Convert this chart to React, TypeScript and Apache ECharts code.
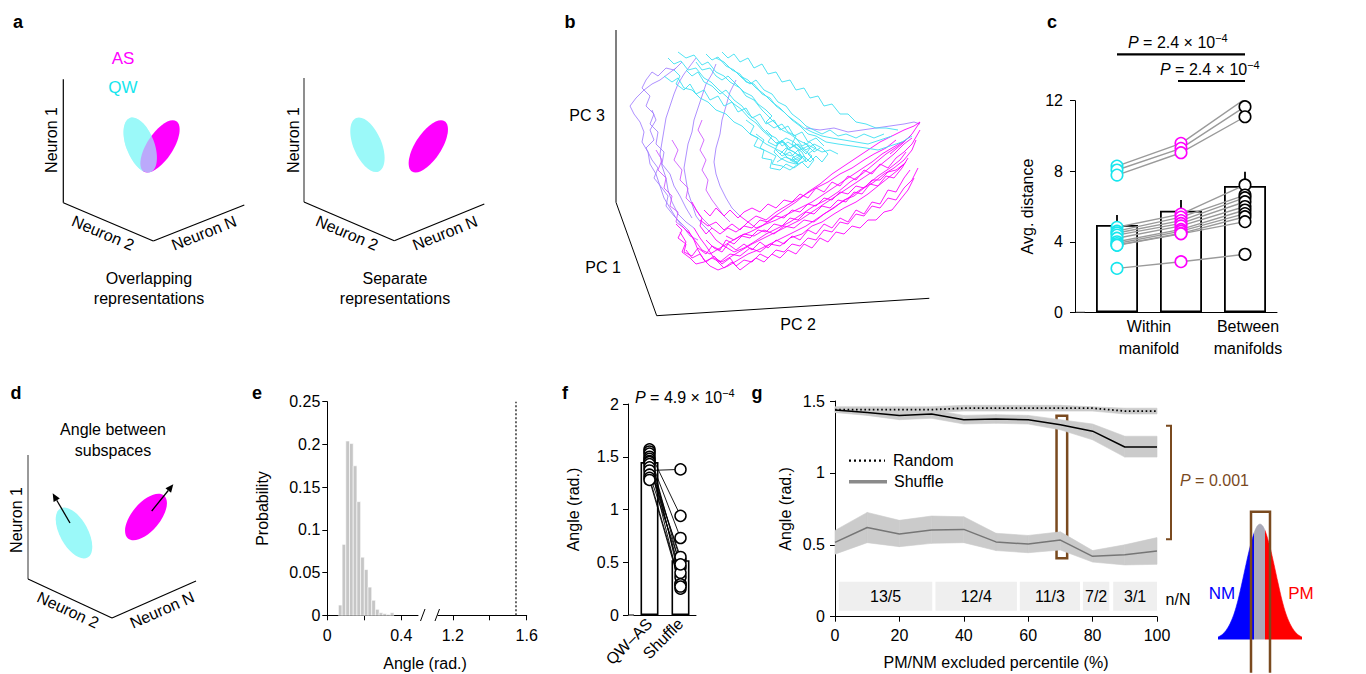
import React, { useEffect, useRef } from 'react';
import * as echarts from 'echarts';

const FONT = '"Liberation Sans", Arial, Helvetica, sans-serif';
const CYAN = '#17e6ee';
const CYAN_LIGHT = '#9bf9f9';
const MAGENTA = '#ff00ff';
const BROWN = '#7a4a1f';

// ---------- panel b: population trajectories projected on (PC 2, PC 3) ----------
const cyanTrajectories: number[][][] = [
  [[52,262],[58,256],[65,259],[72,250],[80,252],[88,242],[95,238],[103,230],[110,224],[118,216],[125,211],[133,202],[140,197],[147,189],[154,183],[160,177],[166,179],[172,171],[178,168],[184,164],[177,160],[169,163],[161,158]],
  [[62,268],[70,262],[78,265],[86,255],[92,258],[100,248],[108,244],[114,238],[124,232],[130,224],[138,220],[146,210],[152,204],[160,196],[166,190],[174,186],[182,180],[190,176],[198,172],[206,168],[214,170],[222,166]],
  [[48,244],[56,238],[62,242],[68,232],[76,230],[84,222],[92,218],[100,210],[110,206],[118,198],[126,194],[134,186],[142,182],[150,176],[158,172],[166,168],[172,162],[180,158],[186,162],[178,168],[170,172],[164,166]],
  [[90,266],[96,260],[102,263],[110,254],[118,250],[124,244],[132,240],[140,232],[148,226],[156,218],[164,212],[172,204],[180,198],[188,192],[196,188],[206,184],[216,182],[228,180],[240,178],[252,176],[264,180],[276,184]],
  [[70,250],[76,244],[82,248],[88,238],[96,234],[104,226],[110,230],[118,220],[126,214],[132,206],[140,200],[146,192],[152,186],[160,182],[166,174],[172,178],[180,172],[186,168],[190,160],[182,156],[174,160]],
  [[100,262],[108,258],[116,250],[124,246],[130,238],[138,236],[146,226],[154,222],[160,214],[168,208],[176,200],[184,194],[192,186],[200,184],[210,178],[222,176],[236,174],[250,172],[262,170],[274,174],[286,178],[296,184]],
  [[150,190],[156,184],[152,178],[160,174],[166,180],[172,172],[168,166],[176,164],[182,170],[186,162],[180,156],[172,158],[164,162],[158,168],[162,176],[170,182],[178,178],[184,172],[190,166],[194,172],[188,178]],
  [[80,258],[86,250],[94,252],[100,244],[106,240],[112,244],[120,236],[128,228],[136,224],[142,216],[150,210],[156,204],[150,198],[158,192],[166,196],[172,188],[180,184],[176,176],[184,170],[192,174],[198,168],[204,172]],
  [[120,248],[126,242],[134,236],[140,240],[148,230],[156,226],[162,218],[170,214],[176,206],[184,200],[190,194],[198,190],[206,186],[214,190],[222,184],[230,186],[240,182],[248,186],[258,182],[268,186]],
  [[140,186],[148,180],[144,172],[152,168],[160,164],[156,156],[166,154],[174,150],[182,156],[176,162],[184,166],[190,158],[196,164],[188,170],[180,176],[172,170]],
  [[58,250],[64,244],[60,236],[68,230],[74,236],[80,226],[88,230],[94,220],[102,224],[108,214],[116,218],[122,208],[130,212],[136,202],[144,206],[150,196],[158,200],[164,190],[172,194],[178,184],[186,188],[192,178],[200,182],[208,174]],
  [[106,268],[112,262],[118,266],[124,258],[132,262],[138,252],[146,256],[152,246],[160,248],[166,238],[174,240],[180,230],[188,232],[194,222],[202,224],[208,214],[216,216],[224,206],[232,206],[240,198],[250,196],[260,192],[270,192],[282,190]],
  [[130,200],[138,194],[134,186],[142,182],[138,174],[148,170],[146,162],[156,160],[154,152],[164,150],[170,156],[178,152],[186,158],[192,152],[198,160],[192,166],[200,172],[194,178],[186,174],[180,182]],
  [[160,170],[166,164],[174,168],[180,160],[188,164],[194,158],[200,164],[206,158],[212,166],[206,172],[198,176],[190,170],[182,176],[174,172],[168,178],[160,176]],
];
const violetTrajectories: number[][][] = [
  [[60,252],[52,246],[44,240],[36,236],[28,230],[20,222],[14,214],[18,206],[24,198],[28,188],[26,178],[32,168],[34,156],[40,146],[44,134],[48,122],[54,112],[60,102],[66,94]],
  [[80,262],[74,254],[68,246],[62,236],[58,226],[54,214],[50,202],[48,190],[46,178],[44,166],[46,154],[50,142],[52,130],[56,118],[62,106],[70,98],[78,92]],
  [[100,256],[96,246],[90,236],[86,224],[82,212],[78,200],[76,188],[72,176],[70,164],[68,152],[70,140],[72,128],[76,116],[80,104],[86,96],[94,88]],
  [[36,210],[40,200],[34,190],[38,180],[30,172],[36,160],[42,152],[38,142],[46,132],[52,124],[50,114],[58,104],[64,98],[72,90]],
  [[120,240],[114,228],[110,214],[106,200],[104,186],[100,172],[98,158],[100,146],[104,134],[110,122],[116,112],[124,104]],
  [[66,258],[58,250],[50,252],[42,244],[36,248],[30,240],[26,232],[34,224],[30,214],[38,206],[34,196],[42,188],[40,176],[48,168],[46,156],[54,146],[58,134],[64,124],[70,112],[76,102]],
  [[190,192],[204,190],[218,192],[232,188],[246,190],[260,192],[274,194],[288,196],[298,198],[304,196]],
];
const purpleTrajectories: number[][][] = [
  [[40,170],[46,160],[42,150],[50,142],[48,132],[56,124],[54,114],[62,108],[60,98],[68,92],[74,84],[82,80]],
  [[56,180],[62,170],[58,160],[66,150],[64,140],[72,132],[70,122],[78,114],[84,104],[90,98],[96,92]],
  [[86,200],[82,190],[88,180],[84,170],[90,160],[86,150],[92,140],[90,130],[96,120],[102,112],[108,104],[114,98]],
];
const magentaTrajectories: number[][][] = [
  [[66,94],[74,86],[80,78],[86,70],[94,66],[104,72],[114,78],[124,84],[134,88],[146,94],[156,102],[168,110],[180,118],[192,128],[204,136],[216,146],[228,154],[240,162],[252,170],[264,178],[276,184],[288,190],[298,194],[304,198],[296,186],[286,176],[274,166]],
  [[78,92],[84,82],[90,74],[98,62],[106,58],[116,64],[126,70],[136,76],[148,82],[160,88],[172,94],[184,100],[196,108],[208,116],[220,124],[232,132],[244,140],[256,148],[268,158],[278,166],[288,176],[296,182]],
  [[94,88],[100,80],[108,74],[118,68],[128,72],[138,78],[150,86],[162,92],[174,98],[186,106],[198,114],[210,120],[222,128],[234,138],[246,146],[258,156],[270,166],[282,174],[292,182]],
  [[72,90],[78,80],[82,70],[88,60],[94,54],[102,50],[112,54],[122,60],[132,66],[142,70],[154,76],[166,82],[178,88],[190,94],[202,102],[214,110],[226,118],[238,126],[250,134],[262,144],[274,152],[284,160],[290,168]],
  [[124,104],[132,98],[140,92],[150,96],[160,100],[172,106],[184,112],[196,118],[208,126],[220,134],[232,142],[244,150],[256,158],[266,166],[276,172],[286,178]],
  [[90,80],[98,72],[106,68],[112,76],[120,70],[128,76],[136,70],[144,78],[152,72],[160,80],[168,76],[176,84],[184,80],[192,90],[200,86],[208,96],[216,92],[224,102],[232,98],[240,110],[248,106],[256,118],[264,116],[272,130],[280,128],[288,142],[294,150]],
  [[84,100],[92,94],[100,98],[108,90],[116,96],[124,90],[132,98],[140,104],[150,100],[160,108],[170,114],[180,120],[190,126],[200,132],[212,138],[224,146],[236,152],[248,160],[258,166],[270,172],[280,180]],
  [[64,88],[70,78],[66,68],[74,62],[80,56],[88,58],[96,62],[104,58],[114,66],[124,64],[134,72],[144,68],[154,76],[164,74],[174,82],[186,86],[196,94],[206,98],[218,106],[228,112],[240,118],[252,126],[262,134],[272,142],[282,150],[290,158]],
  [[110,84],[118,80],[128,86],[138,84],[148,90],[158,86],[168,94],[178,92],[188,100],[198,98],[208,106],[218,112],[228,120],[238,124],[248,132],[258,138],[268,146],[278,152],[288,160],[296,170],[300,180]],
  [[70,70],[76,62],[84,66],[90,58],[98,64],[106,56],[114,62],[120,54],[128,60],[136,58],[144,66],[152,62],[160,70],[168,68],[176,76],[184,74],[192,82],[200,80],[208,90],[216,88],[224,98],[232,96],[240,106],[248,104],[256,114],[264,112],[272,122],[280,120],[288,132],[296,140],[302,152]],
  [[60,96],[66,90],[62,82],[70,76],[68,68],[76,64],[82,72],[90,66],[96,74],[104,70],[110,80],[118,76],[126,84],[134,82],[142,90],[150,88],[158,96],[166,94],[174,102],[182,100],[190,108],[198,106],[206,114],[214,112],[222,120],[230,118],[238,128],[246,126],[254,136],[262,134],[270,144],[278,142],[286,152],[292,162]],
  [[88,110],[94,104],[100,112],[108,104],[114,110],[122,102],[128,108],[136,112],[144,108],[152,116],[160,112],[168,120],[176,118],[184,126],[192,122],[200,132],[208,128],[216,138],[224,134],[232,144],[240,140],[248,150],[256,146],[264,156],[272,152],[280,162],[288,168],[296,176],[304,190]],
  [[100,60],[108,52],[116,58],[124,50],[132,56],[140,62],[148,58],[156,66],[164,62],[172,70],[180,66],[188,76],[196,72],[204,82],[212,78],[220,88],[228,86],[236,94],[244,92],[252,100],[260,100],[268,108],[276,110],[284,120],[292,130],[298,142]],
  [[76,118],[80,110],[86,102],[84,94],[90,86],[96,92],[104,86],[112,92],[120,88],[128,94],[136,92],[144,100],[152,98],[160,104],[168,102],[176,110],[184,108],[192,116],[200,114],[208,122],[216,120],[224,128],[232,126],[240,134],[248,132],[256,140],[264,140],[272,148],[280,150],[288,156]],
];

// ---------- panel c: average distance ----------
const distCategories = ['Within QW', 'Within AS', 'Between manifolds'];
const distQW = [8.29, 8.07, 7.78, 4.82, 4.6, 4.5, 4.38, 4.2, 4.0, 3.9, 3.81, 3.8, 2.49];
const distAS = [9.58, 9.3, 9.05, 5.57, 5.4, 5.2, 5.04, 4.9, 4.7, 4.6, 4.48, 4.45, 2.87];
const distBetween = [12.1, 11.66, 11.09, 7.22, 6.65, 6.5, 6.27, 6.0, 5.8, 5.6, 5.42, 5.14, 3.29];
const distMeans = [4.95, 5.76, 7.16];
const distErrTop = [5.52, 6.37, 7.97];

// ---------- panel e: histogram of angles ----------
const histBinStart = [0.06, 0.08, 0.10, 0.12, 0.14, 0.16, 0.18, 0.20, 0.22, 0.24, 0.26, 0.28, 0.30, 0.32, 0.34];
const histProb = [0.012, 0.083, 0.204, 0.201, 0.175, 0.133, 0.068, 0.0535, 0.033, 0.0176, 0.007, 0.003, 0.002, 0.001, 0.003];
const histBinWidth = 0.02;
const qwAsAngle = 1.542;

// ---------- panel f: angle QW-AS vs shuffle ----------
const angleCats = ['QW–AS', 'Shuffle'];
const angleQWAS = [1.57, 1.55, 1.53, 1.50, 1.48, 1.46, 1.45, 1.43, 1.40, 1.37, 1.33, 1.30, 1.28];
const angleShuffle = [0.30, 0.94, 0.45, 0.73, 0.36, 0.52, 0.25, 0.40, 0.55, 1.38, 0.48, 0.29, 0.27];
const angleMeans = [1.45, 0.52];

// ---------- panel g: angle vs excluded percentile ----------
const percentiles = [0, 10, 20, 30, 40, 50, 60, 70, 80, 90, 100];
const randomMean = [1.44, 1.44, 1.44, 1.44, 1.45, 1.45, 1.45, 1.45, 1.45, 1.43, 1.43];
const randomUpper = [1.46, 1.46, 1.46, 1.46, 1.47, 1.47, 1.47, 1.47, 1.46, 1.45, 1.45];
const randomLower = [1.42, 1.42, 1.42, 1.42, 1.43, 1.43, 1.43, 1.43, 1.43, 1.41, 1.41];
const dataMean = [1.437, 1.42, 1.40, 1.41, 1.37, 1.375, 1.37, 1.335, 1.29, 1.18, 1.18];
const dataUpper = [1.455, 1.445, 1.43, 1.44, 1.40, 1.405, 1.40, 1.37, 1.34, 1.255, 1.255];
const dataLower = [1.42, 1.40, 1.37, 1.38, 1.34, 1.345, 1.34, 1.30, 1.23, 1.11, 1.11];
const shuffleMean = [0.517, 0.62, 0.575, 0.603, 0.607, 0.52, 0.505, 0.533, 0.42, 0.43, 0.457];
const shuffleUpper = [0.60, 0.725, 0.67, 0.70, 0.695, 0.58, 0.565, 0.59, 0.46, 0.50, 0.55];
const shuffleLower = [0.435, 0.515, 0.487, 0.51, 0.515, 0.46, 0.445, 0.464, 0.38, 0.36, 0.364];
const nNLabels = ['13/5', '12/4', '11/3', '7/2', '3/1'];
const nNStart = [1.2, 31.2, 57.4, 77, 86.4];
const nNEnd = [30.2, 56.5, 76.1, 85.2, 100];
const nNBottom = 0.042;
const nNTop = 0.243;
const highlightPct = [68.8, 72.1];
const highlightAngle = [0.406, 1.398];

// ---------- inset: PM / NM distribution ----------
const bellX = [-42, -38, -34, -30, -26, -22, -18, -14, -10, -6, -3, 0, 3, 6, 10, 14, 18, 22, 26, 30, 34, 38, 42];
const bellY = [0.02, 0.04, 0.077, 0.135, 0.22, 0.34, 0.49, 0.65, 0.8, 0.92, 0.98, 1, 0.98, 0.92, 0.8, 0.65, 0.49, 0.34, 0.22, 0.135, 0.077, 0.04, 0.02];
const bellNMEdge = -6.5;
const bellPMEdge = 5;
const bellBox = [-9, 10, -0.29, 1.107];

// ---------- helpers for drawing illustration elements ----------
const txt = (text: string, x: number, y: number, o: any = {}) => ({
  type: 'text', x, y, rotation: ((o.rot || 0) * Math.PI) / 180, silent: true, z: 10,
  style: {
    text, fontSize: o.size || 16, fontFamily: FONT, fontWeight: o.bold ? 'bold' : 'normal',
    fontStyle: o.italic ? 'italic' : 'normal',
    fill: o.color || '#000', align: o.align || 'center', verticalAlign: 'middle',
    lineHeight: o.lh || undefined,
  },
});
const ln = (x1: number, y1: number, x2: number, y2: number, o: any = {}) => ({
  type: 'line', silent: true, z: 10,
  shape: { x1, y1, x2, y2 },
  style: { stroke: o.color || '#000', lineWidth: o.w || 1, lineDash: o.dash || null, lineCap: o.cap || 'butt' },
});
const ell = (cx: number, cy: number, rx: number, ry: number, rotDeg: number, fill: string, opacity = 1) => ({
  type: 'ellipse', x: cx, y: cy, rotation: (rotDeg * Math.PI) / 180, silent: true, z: 10,
  shape: { cx: 0, cy: 0, rx, ry },
  style: { fill, opacity },
});
const arrow = (x1: number, y1: number, x2: number, y2: number) => {
  const ang = Math.atan2(y2 - y1, x2 - x1);
  const L = 8, W = 3.6;
  const bx = x2 - L * Math.cos(ang), by = y2 - L * Math.sin(ang);
  const px = -Math.sin(ang) * W, py = Math.cos(ang) * W;
  return [
    ln(x1, y1, bx, by, { w: 1.3 }),
    { type: 'polygon', silent: true, z: 10, shape: { points: [[x2, y2], [bx + px, by + py], [bx - px, by - py]] }, style: { fill: '#000' } },
  ];
};
const pText = (val: string, sup: string, x: number, y: number, color = '#000') => ({
  type: 'text', x, y, silent: true, z: 10,
  style: {
    text: `{i|P}{n| = ${val}}` + (sup ? `{s|${sup}}` : ''),
    align: 'left', verticalAlign: 'middle', fill: color,
    rich: {
      i: { fontStyle: 'italic', fontSize: 16, fontFamily: FONT, fill: color, color, lineHeight: 20 },
      n: { fontSize: 16, fontFamily: FONT, fill: color, color, lineHeight: 20 },
      s: { fontSize: 11, fontFamily: FONT, fill: color, color, verticalAlign: 'top', lineHeight: 12 },
    },
  },
});

function buildOption() {
  const axisLine = { show: true, lineStyle: { color: '#000', width: 1 } };
  const axisTick = { show: true, length: 5, lineStyle: { color: '#000', width: 1 } };
  const lbl = (margin: number, extra: any = {}) => ({ color: '#000', fontSize: 16, fontFamily: FONT, margin, ...extra });
  const nameStyle = { color: '#000', fontSize: 16, fontFamily: FONT };

  const grid = [
    { left: 616, top: 30, width: 320, height: 290 },          // 0 b
    { left: 1085, top: 100.7, width: 192, height: 211.6 },     // 1 c
    { left: 327.3, top: 401.7, width: 90.7, height: 213.6 },   // 2 e left
    { left: 438, top: 401.7, width: 88.7, height: 213.6 },     // 3 e right
    { left: 634, top: 404, width: 62, height: 211 },           // 4 f
    { left: 835, top: 401, width: 322, height: 215.7 },        // 5 g
    { left: 1218, top: 510.2, width: 84, height: 198.8 },      // 6 inset
  ];

  const xAxis: any[] = [
    { gridIndex: 0, type: 'value', min: 0, max: 320, show: false },
    { gridIndex: 1, type: 'category', data: distCategories, axisLine, axisTick: { show: false }, axisLabel: { show: false } },
    { gridIndex: 2, type: 'value', min: 0, max: 0.49, axisLine, splitLine: { show: false },
      axisTick: { ...axisTick, customValues: [0, 0.2, 0.4] },
      axisLabel: lbl(12, { customValues: [0, 0.4] }) },
    { gridIndex: 3, type: 'value', min: 1.12, max: 1.6, axisLine, splitLine: { show: false },
      axisTick: { ...axisTick, customValues: [1.2, 1.4, 1.6] },
      axisLabel: lbl(12, { customValues: [1.2, 1.6] }) },
    { gridIndex: 4, type: 'category', data: angleCats, axisLine, axisTick: { show: false },
      axisLabel: lbl(6, { rotate: 45, interval: 0 }) },
    { gridIndex: 5, type: 'value', min: 0, max: 100, interval: 20, axisLine, axisTick, splitLine: { show: false },
      axisLabel: lbl(11), name: 'PM/NM excluded percentile (%)', nameLocation: 'middle', nameGap: 38, nameTextStyle: nameStyle },
    { gridIndex: 6, type: 'value', min: -42, max: 42, show: false },
  ];
  const yAxis: any[] = [
    { gridIndex: 0, type: 'value', min: 0, max: 290, show: false },
    { gridIndex: 1, type: 'value', min: 0, max: 12, interval: 4, offset: 10, axisLine, axisTick, splitLine: { show: false },
      axisLabel: lbl(12), name: 'Avg. distance', nameLocation: 'middle', nameGap: 40, nameRotate: 90, nameTextStyle: nameStyle },
    { gridIndex: 2, type: 'value', min: 0, max: 0.25, interval: 0.05, axisLine, axisTick, splitLine: { show: false },
      axisLabel: lbl(7), name: 'Probability', nameLocation: 'middle', nameGap: 57, nameRotate: 90, nameTextStyle: nameStyle },
    { gridIndex: 3, type: 'value', min: 0, max: 0.25, show: false },
    { gridIndex: 4, type: 'value', min: 0, max: 2, interval: 0.5, offset: 6, axisLine, axisTick, splitLine: { show: false },
      axisLabel: lbl(9), name: 'Angle (rad.)', nameLocation: 'middle', nameGap: 47, nameRotate: 90, nameTextStyle: nameStyle },
    { gridIndex: 5, type: 'value', min: 0, max: 1.5, interval: 0.5, axisLine, axisTick, splitLine: { show: false },
      axisLabel: lbl(10), name: 'Angle (rad.)', nameLocation: 'middle', nameGap: 42, nameRotate: 90, nameTextStyle: nameStyle },
    { gridIndex: 6, type: 'value', min: -0.3, max: 1.12, show: false },
  ];

  const series: any[] = [];

  // ---- b
  const addTraj = (list: number[][][], color: string, opacity: number) =>
    list.forEach((t) => series.push({
      type: 'line', xAxisIndex: 0, yAxisIndex: 0, data: t, symbol: 'none', silent: true,
      lineStyle: { color, width: 1, opacity },
    }));
  addTraj(violetTrajectories, '#a07cff', 0.85);
  addTraj(purpleTrajectories, '#cc55ff', 0.85);
  addTraj(magentaTrajectories, MAGENTA, 0.9);
  addTraj(cyanTrajectories, '#3ee0f2', 0.9);

  // ---- c
  series.push({
    type: 'bar', xAxisIndex: 1, yAxisIndex: 1, data: distMeans, barWidth: 42, z: 2, silent: true,
    itemStyle: { color: '#fff', borderColor: '#000', borderWidth: 1.8 },
  });
  series.push({
    type: 'custom', xAxisIndex: 1, yAxisIndex: 1, z: 2, silent: true,
    data: distMeans.map((m, i) => [i, m, distErrTop[i]]),
    encode: { x: 0, y: [1, 2] },
    renderItem: (_p: any, api: any) => {
      const a = api.coord([api.value(0), api.value(1)]);
      const b = api.coord([api.value(0), api.value(2)]);
      return { type: 'line', shape: { x1: a[0], y1: a[1], x2: b[0], y2: b[1] }, style: { stroke: '#000', lineWidth: 1.8 } };
    },
  });
  distQW.forEach((_v, i) => series.push({
    type: 'line', xAxisIndex: 1, yAxisIndex: 1, z: 3, silent: true, symbol: 'none',
    data: [distQW[i], distAS[i], distBetween[i]], lineStyle: { color: '#9a9a9a', width: 1.4 },
  }));
  const distScatter = (vals: number[], idx: number, color: string) => series.push({
    type: 'scatter', xAxisIndex: 1, yAxisIndex: 1, z: 5, silent: true, symbol: 'circle', symbolSize: 11.5,
    data: vals.map((v) => [idx, v]), itemStyle: { color: '#fff', borderColor: color, borderWidth: 1.6, opacity: 1 },
  });
  distScatter(distQW, 0, CYAN);
  distScatter(distAS, 1, MAGENTA);
  distScatter(distBetween, 2, '#000');

  // ---- e
  series.push({
    type: 'custom', xAxisIndex: 2, yAxisIndex: 2, silent: true,
    data: histBinStart.map((s, i) => [s, s + histBinWidth, histProb[i]]),
    encode: { x: [0, 1], y: 2 },
    renderItem: (_p: any, api: any) => {
      const a = api.coord([api.value(0), api.value(2)]);
      const b = api.coord([api.value(1), 0]);
      return { type: 'rect', shape: { x: a[0], y: a[1], width: b[0] - a[0], height: b[1] - a[1] }, style: { fill: '#c6c6c6', stroke: '#fff', lineWidth: 0.6 } };
    },
  });
  series.push({
    type: 'line', xAxisIndex: 3, yAxisIndex: 3, symbol: 'none', silent: true,
    data: [[qwAsAngle, 0], [qwAsAngle, 0.25]],
    lineStyle: { color: '#555', width: 1.8, type: [2, 2] },
  });

  // ---- f
  series.push({
    type: 'bar', xAxisIndex: 4, yAxisIndex: 4, data: angleMeans, barWidth: 18, z: 2, silent: true,
    itemStyle: { color: '#fff', borderColor: '#000', borderWidth: 1.6 },
  });
  angleQWAS.forEach((_v, i) => series.push({
    type: 'line', xAxisIndex: 4, yAxisIndex: 4, z: 3, silent: true, symbol: 'none',
    data: [angleQWAS[i], angleShuffle[i]], lineStyle: { color: '#000', width: 0.9 },
  }));
  const angScatter = (vals: number[], idx: number) => series.push({
    type: 'scatter', xAxisIndex: 4, yAxisIndex: 4, z: 5, silent: true, symbol: 'circle', symbolSize: 11,
    data: vals.map((v) => [idx, v]), itemStyle: { color: '#fff', borderColor: '#000', borderWidth: 1.5, opacity: 1 },
  });
  angScatter(angleQWAS, 0);
  angScatter(angleShuffle, 1);

  // ---- g: shaded bands between lower and upper bounds
  const band = (lower: number[], upper: number[]) => series.push({
    type: 'custom', xAxisIndex: 5, yAxisIndex: 5, silent: true, z: 2,
    data: percentiles.map((p, i) => [p, lower[i], upper[i]]),
    encode: { x: 0, y: [1, 2] },
    renderItem: (params: any, api: any) => {
      const i = params.dataIndex;
      if (i >= percentiles.length - 1) return null;
      const pts = [
        api.coord([percentiles[i], upper[i]]),
        api.coord([percentiles[i + 1], upper[i + 1]]),
        api.coord([percentiles[i + 1], lower[i + 1]]),
        api.coord([percentiles[i], lower[i]]),
      ];
      return { type: 'polygon', shape: { points: pts }, style: { fill: '#cbcbcb', stroke: '#cbcbcb', lineWidth: 0.6 } };
    },
  });
  band(randomLower, randomUpper);
  band(dataLower, dataUpper);
  band(shuffleLower, shuffleUpper);
  series.push({
    type: 'line', xAxisIndex: 5, yAxisIndex: 5, symbol: 'none', silent: true, z: 4,
    data: percentiles.map((p, i) => [p, randomMean[i]]),
    lineStyle: { color: '#000', width: 1.8, type: [1.6, 2.6] },
  });
  series.push({
    type: 'line', xAxisIndex: 5, yAxisIndex: 5, symbol: 'none', silent: true, z: 4,
    data: percentiles.map((p, i) => [p, dataMean[i]]),
    lineStyle: { color: '#000', width: 1.5 },
    markArea: {
      silent: true,
      itemStyle: { color: 'rgba(0,0,0,0)', borderColor: BROWN, borderWidth: 2.5 },
      data: [[{ coord: [highlightPct[0], highlightAngle[1]] }, { coord: [highlightPct[1], highlightAngle[0]] }]],
    },
  });
  series.push({
    type: 'line', xAxisIndex: 5, yAxisIndex: 5, symbol: 'none', silent: true, z: 4,
    data: percentiles.map((p, i) => [p, shuffleMean[i]]),
    lineStyle: { color: '#767676', width: 1.5 },
    markArea: {
      silent: true,
      itemStyle: { color: '#efefef' },
      label: { show: true, position: 'inside', color: '#000', fontSize: 16, fontFamily: FONT },
      data: nNLabels.map((n, i) => [{ name: n, coord: [nNStart[i], nNTop] }, { coord: [nNEnd[i], nNBottom] }]),
    },
  });

  // ---- inset distribution
  const bellIndex = series.length;
  series.push({
    type: 'line', xAxisIndex: 6, yAxisIndex: 6, symbol: 'none', silent: true, smooth: 0.3, z: 2,
    data: bellX.map((x, i) => [x, bellY[i]]),
    lineStyle: { width: 0.6 },
    areaStyle: { opacity: 1 },
  });
  series.push({
    type: 'custom', xAxisIndex: 6, yAxisIndex: 6, silent: true, z: 6,
    data: [bellBox],
    encode: { x: [0, 1], y: [2, 3] },
    renderItem: (_p: any, api: any) => {
      const tl = api.coord([api.value(0), api.value(3)]);
      const br = api.coord([api.value(1), api.value(2)]);
      return {
        type: 'polyline',
        shape: { points: [[tl[0], br[1]], [tl[0], tl[1]], [br[0], tl[1]], [br[0], br[1]]] },
        style: { fill: null, stroke: BROWN, lineWidth: 2.5 },
      };
    },
  });

  const graphic: any[] = [
    // panel letters
    txt('a', 18, 22, { bold: true, size: 18 }),
    txt('b', 570, 22, { bold: true, size: 18 }),
    txt('c', 1052, 22, { bold: true, size: 18 }),
    txt('d', 16, 393, { bold: true, size: 18 }),
    txt('e', 257, 393, { bold: true, size: 18 }),
    txt('f', 565, 393, { bold: true, size: 18 }),
    txt('g', 757, 393, { bold: true, size: 18 }),

    // panel a (left)
    ln(63.3, 79.3, 63.3, 202.7, { w: 1.2 }), ln(63.3, 202.7, 153.3, 241, { w: 1.2 }), ln(153.3, 241, 244.3, 205, { w: 1.2 }),
    ell(140.3, 145, 14, 29, 21, CYAN_LIGHT),
    ell(160, 146.3, 13, 30, -33, MAGENTA),
    ell(140.3, 145, 14, 29, 21, CYAN_LIGHT, 0.68),
    txt('AS', 123, 58, { color: MAGENTA, size: 17 }),
    txt('QW', 123, 87, { color: CYAN, size: 17 }),
    txt('Neuron 1', 51, 140, { rot: 90 }),
    txt('Neuron 2', 103, 233, { rot: -23 }),
    txt('Neuron N', 204, 233, { rot: 21.6 }),
    txt('Overlapping\nrepresentations', 149, 288, { lh: 20 }),
    // panel a (right)
    ln(304, 78, 304, 202, { w: 1.2, color: '#444' }), ln(304, 202, 394.3, 240.7, { w: 1.2 }), ln(394.3, 240.7, 484.3, 204, { w: 1.2 }),
    ell(367.5, 144.7, 14, 29, 23, CYAN_LIGHT),
    ell(428.3, 146.3, 13, 30, -33, MAGENTA),
    txt('Neuron 1', 293, 140, { rot: 90 }),
    txt('Neuron 2', 347, 233, { rot: -23 }),
    txt('Neuron N', 445, 233, { rot: 21.6 }),
    txt('Separate\nrepresentations', 395, 288, { lh: 20 }),

    // panel b axes
    ln(616, 30, 616, 202.3, { w: 1.5, color: '#555' }),
    ln(616, 202.3, 656.7, 315.7, { w: 1 }),
    ln(656.7, 315.7, 929.3, 298.3, { w: 1 }),
    txt('PC 3', 587, 115),
    txt('PC 1', 603, 267),
    txt('PC 2', 798, 324),

    // panel c annotations
    pText('2.4 × 10', '−4', 1128, 42),
    ln(1117, 54.3, 1245, 54.3, { w: 2.2 }),
    pText('2.4 × 10', '−4', 1160, 69),
    ln(1178, 81, 1245, 81, { w: 2.2 }),
    ln(1075, 312.3, 1085, 312.3, { w: 1 }),
    txt('Within\nmanifold', 1149, 337.5, { lh: 21.6 }),
    txt('Between\nmanifolds', 1248, 337.5, { lh: 21.6 }),

    // panel d
    ln(28, 455, 28, 579, { w: 1.2, color: '#555' }), ln(28, 579, 112, 618, { w: 1.2 }), ln(112, 618, 196, 581, { w: 1.2 }),
    ell(74, 533, 14, 28, 29, CYAN_LIGHT),
    ell(146, 517, 14, 28, -40, MAGENTA),
    ...arrow(70, 523, 52.7, 493.3),
    ...arrow(151.7, 511, 173.3, 484.3),
    txt('Angle between\nsubspaces', 113, 439.5, { lh: 21 }),
    txt('Neuron 1', 16, 520, { rot: 90 }),
    txt('Neuron 2', 68, 610, { rot: -24.9 }),
    txt('Neuron N', 162, 610, { rot: 23.8 }),

    // panel e annotations
    ln(420.5, 621, 425, 609, { w: 1 }),
    ln(435, 621, 439.5, 609, { w: 1 }),
    txt('Angle (rad.)', 425, 663),

    // panel f annotations
    pText('4.9 × 10', '−4', 635, 397),
    ln(628, 615, 634, 615, { w: 1 }),

    // panel g annotations
    ln(849, 460.7, 885, 460.7, { w: 2.2, dash: [2, 3] }),
    txt('Random', 893, 460.7, { align: 'left' }),
    ln(849, 481.7, 887, 481.7, { w: 3.5, color: '#8a8a8a' }),
    txt('Shuffle', 894, 481.7, { align: 'left' }),
    { type: 'polyline', silent: true, z: 10, shape: { points: [[1166, 425.7], [1171, 425.7], [1171, 539.3], [1166, 539.3]] }, style: { stroke: BROWN, lineWidth: 2, fill: null } },
    pText('0.001', '', 1180, 480, BROWN),
    txt('n/N', 1178, 599),
    txt('NM', 1222, 593, { color: '#0000ff', size: 17 }),
    txt('PM', 1301, 593, { color: '#ff0000', size: 17 }),
  ];

  return {
    animation: false,
    backgroundColor: '#fff',
    textStyle: { fontFamily: FONT },
    grid, xAxis, yAxis, series, graphic,
    visualMap: [{
      type: 'piecewise', show: false, dimension: 0, seriesIndex: bellIndex,
      pieces: [
        { lt: bellNMEdge, color: '#0000ff' },
        { gte: bellNMEdge, lt: bellPMEdge, color: '#a9a9b8' },
        { gte: bellPMEdge, color: '#ff0000' },
      ],
    }],
  };
}

export default function App() {
  const ref = useRef<HTMLDivElement>(null);
  useEffect(() => {
    document.body.style.margin = '0';
    const chart = echarts.init(ref.current as HTMLDivElement, null, { renderer: 'svg' });
    chart.setOption(buildOption() as any);
    return () => chart.dispose();
  }, []);
  return <div ref={ref} style={{ width: 1366, height: 674 }} />;
}
